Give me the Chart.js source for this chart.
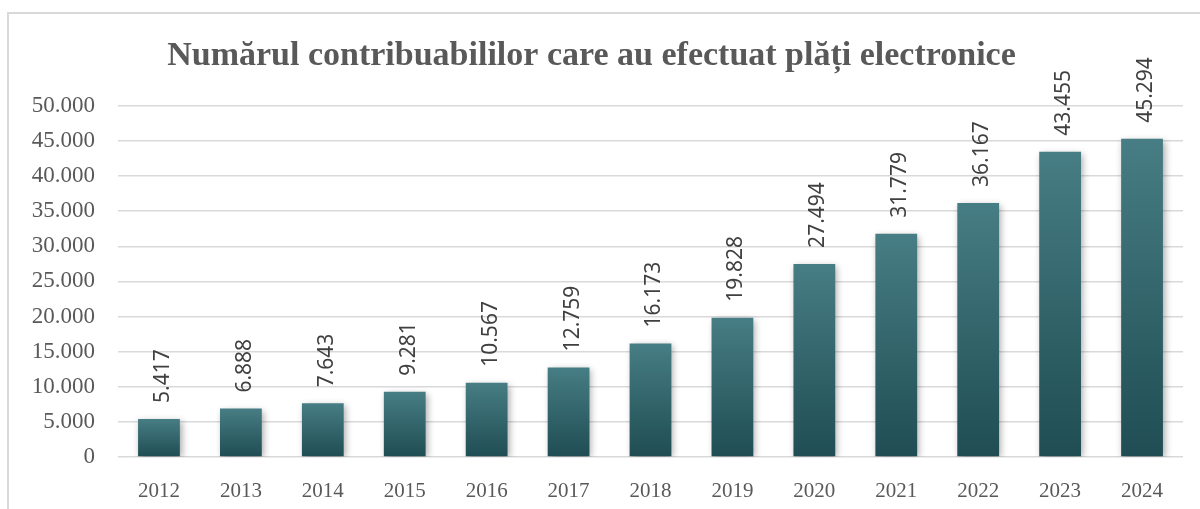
<!DOCTYPE html>
<html>
<head>
<meta charset="utf-8">
<script src="https://cdn.jsdelivr.net/npm/chart.js@4.4.1/dist/chart.umd.min.js"></script>
<style>
    html, body { margin: 0; padding: 0; background: #fff; overflow: hidden; }
    #wrap { position: relative; width: 1200px; height: 509px; }
    #frame {
        position: absolute; left: 7px; top: 12px; width: 1300px; height: 600px;
        border: 2px solid #d9d9d9; box-sizing: border-box;
    }
    canvas { position: absolute; left: 0; top: 0; }
</style>
</head>
<body>
<div id="wrap">
    <div id="frame"></div>
    <canvas id="myChart" width="1200" height="509"></canvas>
</div>
<script>
const years = ['2012', '2013', '2014', '2015', '2016', '2017', '2018', '2019', '2020', '2021', '2022', '2023', '2024'];
const payers = [5417, 6888, 7643, 9281, 10567, 12759, 16173, 19828, 27494, 31779, 36167, 43455, 45294];
const yTicks = [0, 5000, 10000, 15000, 20000, 25000, 30000, 35000, 40000, 45000, 50000];

const serif = "'Liberation Serif', 'DejaVu Serif', serif";
const textColor = '#595959';

function fmt(n) {
    return String(n).replace(/\B(?=(\d{3})+(?!\d))/g, '.');
}

// per-bar vertical gradient
function barGradient(context) {
    const chart = context.chart;
    const { ctx, chartArea, scales } = chart;
    if (!chartArea || !scales.y) return '#3d6e74';
    const v = context.raw;
    const top = scales.y.getPixelForValue(v);
    const bottom = scales.y.getPixelForValue(0);
    const g = ctx.createLinearGradient(0, top, 0, bottom);
    g.addColorStop(0, '#477d84');
    g.addColorStop(1, '#1f4d53');
    return g;
}

// soft shadow behind bars
const barShadow = {
    id: 'barShadow',
    beforeDatasetsDraw(chart) {
        const ctx = chart.ctx;
        ctx.save();
        ctx.shadowColor = 'rgba(0, 0, 0, 0.35)';
        ctx.shadowBlur = 7;
        ctx.shadowOffsetX = 2;
        ctx.shadowOffsetY = 2;
    },
    afterDatasetsDraw(chart) {
        chart.ctx.restore();
    }
};

// rotated value labels above the bars
const valueLabels = {
    id: 'valueLabels',
    afterDatasetsDraw(chart) {
        const ctx = chart.ctx;
        const meta = chart.getDatasetMeta(0);
        ctx.save();
        ctx.font = "21px 'Noto Sans', 'Open Sans', sans-serif";
        ctx.fillStyle = '#404040';
        ctx.textAlign = 'left';
        ctx.textBaseline = 'middle';
        meta.data.forEach((bar, i) => {
            ctx.save();
            ctx.translate(bar.x + 4, bar.y - 16);
            ctx.rotate(-Math.PI / 2);
            ctx.fillText(fmt(payers[i]), 0, 0);
            ctx.restore();
        });
        ctx.restore();
    }
};

const ctx = document.getElementById('myChart').getContext('2d');

new Chart(ctx, {
    type: 'bar',
    data: {
        labels: years,
        datasets: [{
            label: 'Contribuabili',
            data: payers,
            backgroundColor: barGradient,
            borderWidth: 0,
            barPercentage: 0.51,
            categoryPercentage: 1
        }]
    },
    plugins: [barShadow, valueLabels],
    options: {
        responsive: false,
        animation: false,
        layout: {
            padding: { left: 0, right: 17, top: 0, bottom: 0 }
        },
        plugins: {
            legend: { display: false },
            tooltip: { enabled: false },
            title: {
                display: true,
                text: 'Numărul contribuabililor care au efectuat plăți electronice',
                color: textColor,
                font: { family: serif, size: 34, weight: 'bold', lineHeight: 1.2 },
                padding: { top: 36, bottom: 29 }
            }
        },
        scales: {
            x: {
                grid: { display: false, drawTicks: false },
                border: { display: false },
                ticks: {
                    color: textColor,
                    font: { family: serif, size: 21 },
                    padding: 22
                },
                afterFit(scale) { scale.height = 52; }
            },
            y: {
                min: 0,
                max: 50000,
                afterBuildTicks(scale) {
                    scale.ticks = yTicks.map(v => ({ value: v }));
                },
                grid: {
                    color: '#d9d9d9',
                    lineWidth: 1.5,
                    drawTicks: false
                },
                border: { display: false },
                ticks: {
                    color: textColor,
                    font: { family: serif, size: 23 },
                    padding: 23,
                    callback: v => fmt(v)
                },
                afterFit(scale) { scale.width = 118; }
            }
        }
    }
});
</script>
</body>
</html>
